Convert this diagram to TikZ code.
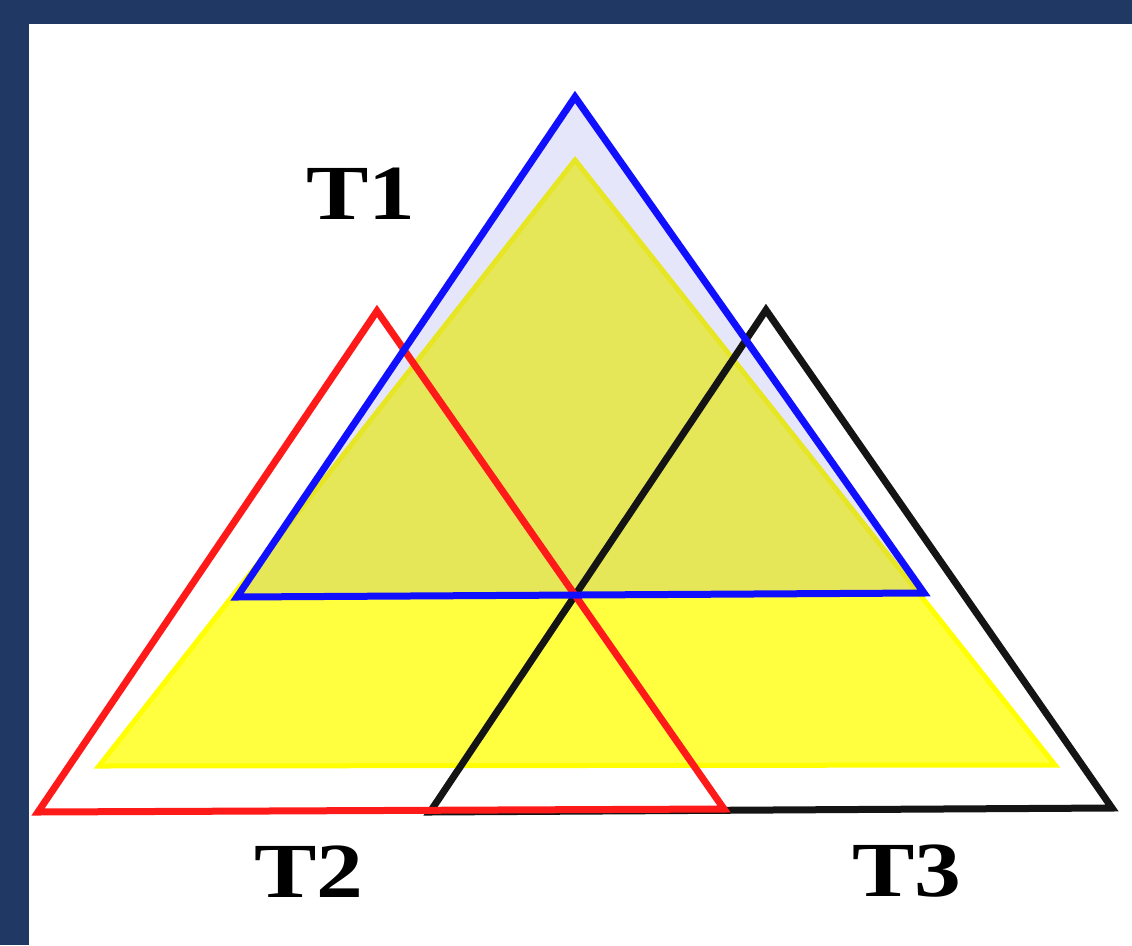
\documentclass[tikz,border=0pt]{standalone}
\usepackage{fontspec}
\setmainfont{Liberation Serif}
\usepackage{xcolor}
\usepackage{tikz}
\usetikzlibrary{positioning}

\definecolor{framenavy}{RGB}{32,56,100}
\definecolor{tyellow}{RGB}{255,255,64}
\definecolor{tyedge}{RGB}{255,255,0}
\definecolor{tlav}{RGB}{100,100,224}
\definecolor{tred}{RGB}{255,26,26}
\definecolor{tblue}{RGB}{16,16,255}
\definecolor{tblack}{RGB}{20,20,20}

\begin{document}
\begin{tikzpicture}[
  x=1pt, y=-1pt,
  every node/.style={font=\fontsize{78}{80}\selectfont\bfseries, inner sep=0pt},
  lbl/.style ={xscale=1.2, transform shape},
  yel/.style ={fill=tyellow, draw=tyedge, line width=5pt, line join=miter},
  bfill/.style={fill=tlav, fill opacity=0.16},
  tri/.style ={line width=7pt, line join=miter},
]

%% ─── Frame ───────────────────────────────────────────────────────────────────
\fill[white] (0,0) rectangle (1132,945);
\fill[framenavy] (0,0) rectangle (1132,24);
\fill[framenavy] (0,0) rectangle (29,945);

%% Corners (hardcoded, pixels of the reference)
\coordinate (Ytop) at (575,160);  \coordinate (Yl) at (99,766);   \coordinate (Yr) at (1055,765);
\coordinate (Btop) at (575,97);   \coordinate (Bl) at (237,597);  \coordinate (Br) at (924,593);
\coordinate (Rtop) at (377,311);  \coordinate (Rl) at (38,812);   \coordinate (Rr) at (724,809);
\coordinate (Ktop) at (766,310);  \coordinate (Kl) at (430,812);  \coordinate (Kr) at (1112,808);

%% ─── Yellow region and T1 fill ───────────────────────────────────────────────
\path[yel] (Ytop) -- (Yl) -- (Yr) -- cycle;
\fill[bfill] (Btop) -- (Bl) -- (Br) -- cycle;

%% ─── Triangle outlines ───────────────────────────────────────────────────────
\draw[tri, tblack] (Ktop) -- (Kl) -- (Kr) -- cycle;   % T3
\draw[tri, tred]   (Rtop) -- (Rl) -- (Rr) -- cycle;   % T2
\draw[tri, tblue]  (Btop) -- (Bl) -- (Br) -- cycle;   % T1

%% ─── Labels ──────────────────────────────────────────────────────────────────
\node[lbl] (lblT1) at (361,194) {T1};
\node[lbl] (lblT2) at (309,872) {T2};
\node[lbl] (lblT3) at (907,871) {T3};

\end{tikzpicture}
\end{document}
